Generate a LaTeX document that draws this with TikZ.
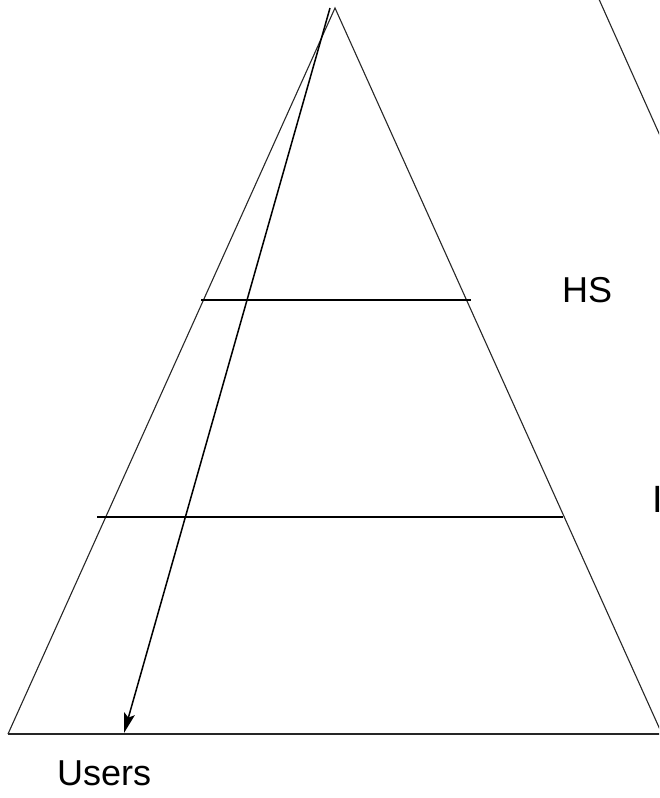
\documentclass[tikz,border=0pt]{standalone}
\usepackage{fontspec}
\setmainfont{Liberation Sans}
\usetikzlibrary{arrows.meta}
\begin{document}
\begin{tikzpicture}[x=1pt,y=-1pt,
  edge/.style={line width=1.1pt,black!85},
  level/.style={line width=1.4pt,black},
  lbl/.style={font=\fontsize{36}{40}\selectfont,inner sep=0pt,anchor=base west},
  flow/.style={line width=1.5pt,black,-{Stealth[length=20pt,width=11pt,inset=4pt]}}]
\useasboundingbox (0,0) rectangle (659,798);
\clip (0,0) rectangle (659,798);
\coordinate (apex) at (335,8);
\coordinate (bl) at (8,734);
\coordinate (br) at (662,734);
\coordinate (bend) at (680,734);
\coordinate (l1a) at (201,300);
\coordinate (l1b) at (471,300);
\coordinate (l2a) at (97,517);
\coordinate (l2b) at (563,517);
\coordinate (s) at (330,8);
\coordinate (e) at (124,733);
\coordinate (o1) at (598,-3);
\coordinate (o2) at (670,158);
\draw[edge] (bl) -- (apex) -- (br);
\draw[edge] (bl) -- (bend);
\draw[edge] (o1) -- (o2);
\draw[level] (l1a) -- (l1b);
\draw[level] (l2a) -- (l2b);
\draw[flow] (s) -- (e);
\node[lbl] (hs) at (562,302) {HS};
\node[lbl,font=\fontsize{38}{42}\selectfont] (ps) at (652,512) {I};
\node[lbl] (users) at (57,785) {Users};
\end{tikzpicture}
\end{document}
